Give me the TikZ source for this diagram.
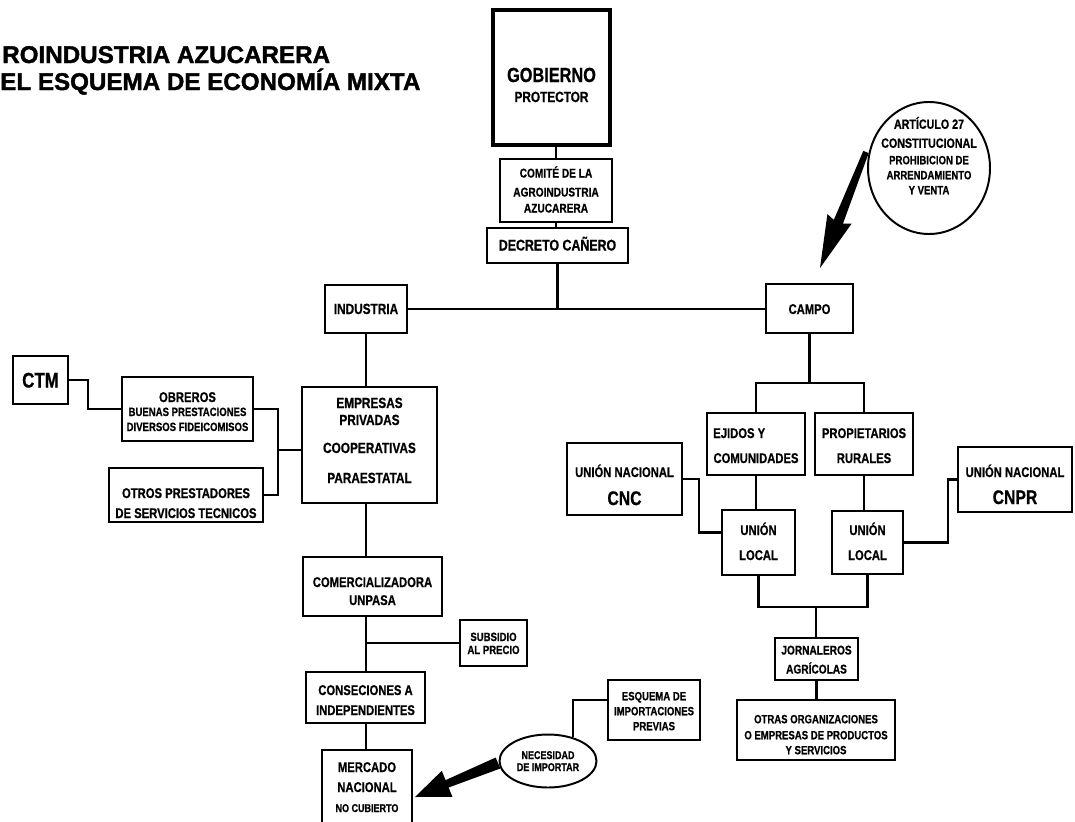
\documentclass[tikz,border=0pt]{standalone}
\usepackage{fontspec}
\setmainfont{Liberation Sans}
\newfontfamily\cf[FakeStretch=0.8, BoldFeatures={FakeBold=0.7}]{Liberation Sans}
\newfontfamily\tlf[BoldFeatures={FakeBold=1.6}]{Liberation Sans}
\usetikzlibrary{shapes.geometric}
\tikzset{
  bx/.style 2 args={draw, line width=1.6pt, rectangle, inner sep=0pt,
    minimum width=#1*0.025cm, minimum height=#2*0.025cm},
  ell/.style 2 args={draw, line width=1.4pt, ellipse, inner sep=0pt,
    minimum width=#1*0.025cm, minimum height=#2*0.025cm},
  ln/.style={line width=1.6pt},
  tx/.style={font=\cf\bfseries\fontsize{#1}{#1}\selectfont, anchor=base, inner sep=0pt},
  ttl/.style={font=\tlf\bfseries\fontsize{17.2}{18}\selectfont, anchor=base west, inner sep=0pt},
}
\begin{document}
\begin{tikzpicture}[x=0.025cm,y=-0.025cm]
\useasboundingbox (0,0) rectangle (1075,821);
\fill[white] (0,0) rectangle (1075,821);
\clip (0,0) rectangle (1075,821);

% title
\node[ttl] (ti1) at (2,63) {ROINDUSTRIA AZUCARERA};
\node[ttl] (ti2) at (0,90) {EL ESQUEMA DE ECONOMÍA MIXTA};

% boxes
\node[bx={117}{135}, line width=2.4pt] (gob) at (551.5,77.5) {};
\node[bx={112}{63}] (com) at (556,190.5) {};
\node[bx={141}{35}] (dec) at (557.5,245.5) {};
\node[bx={82}{48}] (ind) at (366,309) {};
\node[bx={87}{49}] (cam) at (809.5,308.5) {};
\node[bx={55}{48}] (ctm) at (40.5,380) {};
\node[bx={131}{64}] (obr) at (187.5,409) {};
\node[bx={154}{54}] (otr) at (186,495) {};
\node[bx={135}{116}] (emp) at (369.5,445) {};
\node[bx={139}{59}] (comz) at (372.5,586.5) {};
\node[bx={67}{46}] (sub) at (493.5,643) {};
\node[bx={119}{51}] (con) at (365.5,697.5) {};
\node[bx={90}{85}] (mer) at (367,792.5) {};
\node[bx={92}{60}] (esq) at (654,710) {};
\node[ell={97}{53}] (nec) at (548,761) {};
\node[ell={122}{132}] (art) at (929,168) {};
\node[bx={98}{62}] (ejd) at (756,444) {};
\node[bx={98}{62}] (pro) at (864,444) {};
\node[bx={115}{72}] (cnc) at (624.5,479) {};
\node[bx={73}{65}] (ul1) at (758.5,542.5) {};
\node[bx={71}{63}] (ul2) at (867.5,542.5) {};
\node[bx={114}{65}] (cnpr) at (1015,479.5) {};
\node[bx={83}{42}] (jor) at (816.5,659) {};
\node[bx={158}{60}] (oto) at (816,730) {};

% texts
\node[tx=14.5] (gob1) at (551.5,82) {GOBIERNO};
\node[tx=10.5] (gob2) at (551.5,102) {PROTECTOR};
\node[tx=9] (com1) at (556,177.5) {COMITÉ DE LA};
\node[tx=9] (com2) at (556,196.5) {AGROINDUSTRIA};
\node[tx=9] (com3) at (556,212.5) {AZUCARERA};
\node[tx=11] (dec1) at (557.5,250.5) {DECRETO CAÑERO};
\node[tx=10.5] (ind1) at (366,314) {INDUSTRIA};
\node[tx=10] (cam1) at (809.5,314) {CAMPO};
\node[tx=15] (ctm1) at (40.5,387.5) {CTM};
\node[tx=10] (obr1) at (187.5,402) {OBREROS};
\node[tx=8.5] (obr2) at (187.5,416) {BUENAS PRESTACIONES};
\node[tx=8.5] (obr3) at (187.5,431) {DIVERSOS FIDEICOMISOS};
\node[tx=10] (otr1) at (186,498) {OTROS PRESTADORES};
\node[tx=10] (otr2) at (186,518) {DE SERVICIOS TECNICOS};
\node[tx=10.5] (emp1) at (369.5,408) {EMPRESAS};
\node[tx=10.5] (emp2) at (369.5,425) {PRIVADAS};
\node[tx=10.5] (emp3) at (369.5,453) {COOPERATIVAS};
\node[tx=10.5] (emp4) at (369.5,483) {PARAESTATAL};
\node[tx=10] (comz1) at (372.5,587) {COMERCIALIZADORA};
\node[tx=10] (comz2) at (372.5,605) {UNPASA};
\node[tx=8.5] (sub1) at (493.5,641) {SUBSIDIO};
\node[tx=8.5] (sub2) at (493.5,654) {AL PRECIO};
\node[tx=10] (con1) at (365.5,695) {CONSECIONES A};
\node[tx=10] (con2) at (365.5,715) {INDEPENDIENTES};
\node[tx=10] (mer1) at (367,772) {MERCADO};
\node[tx=10] (mer2) at (367,792) {NACIONAL};
\node[tx=8] (mer3) at (367,812) {NO CUBIERTO};
\node[tx=8.5] (esq1) at (654,700.25) {ESQUEMA DE};
\node[tx=8.5] (esq2) at (654,715.25) {IMPORTACIONES};
\node[tx=8.5] (esq3) at (654,730.25) {PREVIAS};
\node[tx=8] (nec1) at (548,759) {NECESIDAD};
\node[tx=8] (nec2) at (548,771) {DE IMPORTAR};
\node[tx=9.5] (art1) at (929,128.75) {ARTÍCULO 27};
\node[tx=9.5] (art2) at (929,147.75) {CONSTITUCIONAL};
\node[tx=8.5] (art3) at (929,164.25) {PROHIBICION DE};
\node[tx=8.5] (art4) at (929,179.25) {ARRENDAMIENTO};
\node[tx=8.5] (art5) at (929,194.25) {Y VENTA};
\node[tx=10, anchor=base west] (ejd1) at (713,438) {EJIDOS Y};
\node[tx=10] (ejd2) at (756,463) {COMUNIDADES};
\node[tx=10] (pro1) at (864,438) {PROPIETARIOS};
\node[tx=10] (pro2) at (864,463) {RURALES};
\node[tx=10] (cnc1) at (624.5,477) {UNIÓN NACIONAL};
\node[tx=14] (cnc2) at (624.5,505) {CNC};
\node[tx=10] (ul11) at (758.5,535) {UNIÓN};
\node[tx=10] (ul12) at (758.5,560) {LOCAL};
\node[tx=10] (ul21) at (867.5,535) {UNIÓN};
\node[tx=10] (ul22) at (867.5,560) {LOCAL};
\node[tx=10] (cnpr1) at (1015,477) {UNIÓN NACIONAL};
\node[tx=14] (cnpr2) at (1015,504) {CNPR};
\node[tx=9] (jor1) at (816.5,654.5) {JORNALEROS};
\node[tx=9] (jor2) at (816.5,673.5) {AGRÍCOLAS};
\node[tx=8.5] (oto1) at (816,723.25) {OTRAS ORGANIZACIONES};
\node[tx=8.5] (oto2) at (816,739.25) {O EMPRESAS DE PRODUCTOS};
\node[tx=8.5] (oto3) at (816,754.25) {Y SERVICIOS};

% connectors
\draw[ln] (com.north) -- (com.north |- gob.south);
\draw[ln] (com.south) -- (com.south |- dec.north);
\draw[ln] (dec.south) -- (dec.south |- ind.east);
\draw[ln] (ind.east) -- (ind.east -| cam.west);
\draw[ln] (ind.south) -- (ind.south |- emp.north);
\draw[ln] (ind.south |- emp.south) -- (ind.south |- comz.north);
\draw[ln] (ind.south |- comz.south) -- (ind.south |- con.north);
\draw[ln] (ind.south |- sub.west) -- (sub.west);
\draw[ln] (ind.south |- con.south) -- (ind.south |- mer.north);
\draw[ln] (ctm.east) -- ++(19,0) |- (obr.west);
\coordinate (j2) at (278,450);
\draw[ln] (obr.east) -| (j2 |- otr.east) -- (otr.east);
\draw[ln] (j2) -- (j2 -| emp.west);
\coordinate (cj) at (809.5,383);
\draw[ln] (cam.south) -- (cj);
\draw[ln] (ejd.north) |- (cj) -| (pro.north);
\draw[ln] (ejd.south) -- (ejd.south |- ul1.north);
\draw[ln] (pro.south) -- (pro.south |- ul2.north);
\draw[ln] (cnc.east) -- ++(16,0) |- ([yshift=0.25cm]ul1.west);
\draw[ln] (ul2.east) -- ++(44,0) |- (cnpr.west);
\coordinate (lj) at (816,607);
\draw[ln] (ul1.south) |- (lj) -| (ul2.south);
\draw[ln] (lj) -- (lj |- jor.north);
\draw[ln] (jor.south) -- (jor.south |- oto.north);
\draw[ln] ([yshift=0.25cm]esq.west) -| (nec.43);

% thick arrows
\coordinate (a1s) at (866,152);
\coordinate (a1t) at (820,268);
\fill (868.7,153.1) -- (843.0,223.5) -- (851.6,223.7) -- (a1t)
  -- (827.4,214.1) -- (833.8,219.9) -- (863.3,150.9) -- cycle;
\coordinate (a2s) at (498,763);
\coordinate (a2t) at (415,797);
\fill (500.3,768.5) -- (448.6,787.5) -- (452.4,796.8) -- (a2t)
  -- (441.8,770.8) -- (445.6,780.1) -- (495.7,757.5) -- cycle;
\end{tikzpicture}
\end{document}
